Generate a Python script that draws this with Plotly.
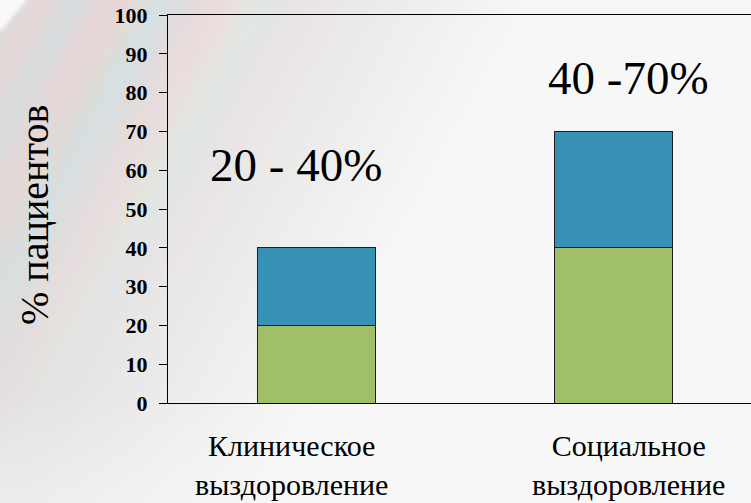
import base64
import struct
import zlib

import numpy as np
import plotly.graph_objects as go

# --- data ---------------------------------------------------------------
categories = ["Клиническое выздоровление", "Социальное выздоровление"]
category_lines = [["Клиническое", "выздоровление"], ["Социальное", "выздоровление"]]
lower_values = [20, 40]      # green segment
upper_values = [20, 30]      # blue segment stacked on top
range_separators = [" - ", " -"]
range_label_y = [61.3, 83.8]
range_label_x = [-0.07, 1.05]
category_label_x = [-0.085, 1.05]
y_ticks = [0, 10, 20, 30, 40, 50, 60, 70, 80, 90, 100]

W, H = 751, 503
L, T, B = 168, 15, 100
plot_w = W - L
plot_h = H - T - B


def png_uri(arr):
    h, w, _ = arr.shape
    raw = b"".join(b"\x00" + row.tobytes() for row in arr)

    def chunk(tag, data):
        c = struct.pack(">I", len(data)) + tag + data
        return c + struct.pack(">I", zlib.crc32(tag + data) & 0xFFFFFFFF)

    png = (b"\x89PNG\r\n\x1a\n"
           + chunk(b"IHDR", struct.pack(">IIBBBBB", w, h, 8, 2, 0, 0, 0))
           + chunk(b"IDAT", zlib.compress(raw, 9))
           + chunk(b"IEND", b""))
    return "data:image/png;base64," + base64.b64encode(png).decode()


# soft slide backdrop: grey on the left fading to near white, pastel streaks
gw, gh = 188, 126
xs = np.linspace(0, W, gw)[None, :]
ys = np.linspace(0, H, gh)[:, None]
s = xs + 0.55 * ys
fade = np.clip((s - 150) / 380.0, 0, 1)
base = 219 + 28 * fade
base = base + 12 * np.clip((ys - 390) / 110.0, 0, 1) * (1 - fade)
img = np.repeat(base[:, :, None], 3, axis=2)
strength = 0.8 * np.clip(1 - s / 480.0, 0, 1) * np.clip(1 - ys / 600.0, 0.25, 1)
pink = (np.exp(-((s - 215) / 28.0) ** 2) + 0.9 * np.exp(-((s - 110) / 26.0) ** 2)
        + 0.7 * np.exp(-((s - 320) / 35.0) ** 2) + 0.6 * np.exp(-((s - 40) / 18.0) ** 2))
cyan = (np.exp(-((s - 160) / 18.0) ** 2) + 0.8 * np.exp(-((s - 262) / 20.0) ** 2)
        + 0.5 * np.exp(-((s - 75) / 15.0) ** 2))
yellow = np.exp(-((s - 245) / 20.0) ** 2) + 0.6 * np.exp(-((s - 135) / 15.0) ** 2)
img[:, :, 0] += strength * (24 * pink - 10 * cyan + 8 * yellow)
img[:, :, 1] += strength * (-8 * pink + 10 * cyan + 7 * yellow)
img[:, :, 2] += strength * (-6 * pink + 16 * cyan - 12 * yellow)
corner = np.clip((26 - (xs + 0.85 * ys)) / 5.0, 0, 1)
img = img * (1 - corner[..., None]) + 250 * corner[..., None]
img = np.clip(img, 0, 255).astype(np.uint8)

serif = "'Times New Roman', 'Liberation Serif', Tinos, 'DejaVu Serif', serif"

fig = go.Figure()
fig.add_trace(go.Bar(
    x=categories, y=lower_values, width=0.4,
    marker=dict(color="#a1bf68", line=dict(color="#1e1e1e", width=1)),
))
fig.add_trace(go.Bar(
    x=categories, y=upper_values, width=0.4,
    marker=dict(color="#3791b4", line=dict(color="#1e1e1e", width=1)),
))

for i in range(len(categories)):
    low = lower_values[i]
    high = lower_values[i] + upper_values[i]
    fig.add_annotation(
        x=range_label_x[i], y=range_label_y[i], xref="x", yref="y",
        xanchor="center", yanchor="middle",
        text=f"{low}{range_separators[i]}{high}%", showarrow=False,
        font=dict(family=serif, size=47, color="#000000"),
    )
    # two-line category caption under the axis
    fig.add_annotation(
        x=category_label_x[i], y=(403 - 465) / plot_h, xref="x", yref="paper",
        xanchor="center", yanchor="middle",
        text="<br>".join(category_lines[i]), showarrow=False,
        font=dict(family=serif, size=30, color="#000000"),
    )

fig.add_annotation(
    x=(35 - L) / plot_w, y=(403 - 215) / plot_h, xref="paper", yref="paper",
    xanchor="center", yanchor="middle",
    text="% пациентов", textangle=-90, showarrow=False,
    font=dict(family=serif, size=40, color="#000000"),
)

fig.add_layout_image(dict(
    source=png_uri(img), xref="paper", yref="paper",
    x=-L / plot_w, y=1 + T / plot_h, sizex=W / plot_w, sizey=H / plot_h,
    xanchor="left", yanchor="top", sizing="stretch", layer="below",
))

fig.update_layout(
    width=W, height=H, barmode="stack", showlegend=False,
    font=dict(family=serif),
    margin=dict(l=L, r=0, t=T, b=B),
    paper_bgcolor="#eeeeee", plot_bgcolor="rgba(0,0,0,0)",
    xaxis=dict(
        range=[-0.5, 1.463], showline=True, linecolor="#000000", linewidth=1.3,
        mirror=True, ticks="", showgrid=False, zeroline=False,
        showticklabels=False,
    ),
    yaxis=dict(
        range=[0, 100], tickvals=y_ticks, showline=True, linecolor="#000000",
        linewidth=1.3, ticks="outside", ticklen=8, tickcolor="#000000",
        showgrid=False, zeroline=False, ticklabelstandoff=7,
        tickfont=dict(family=serif, size=22, color="#000000", weight="bold"),
    ),
)

fig.write_html("out.html")
